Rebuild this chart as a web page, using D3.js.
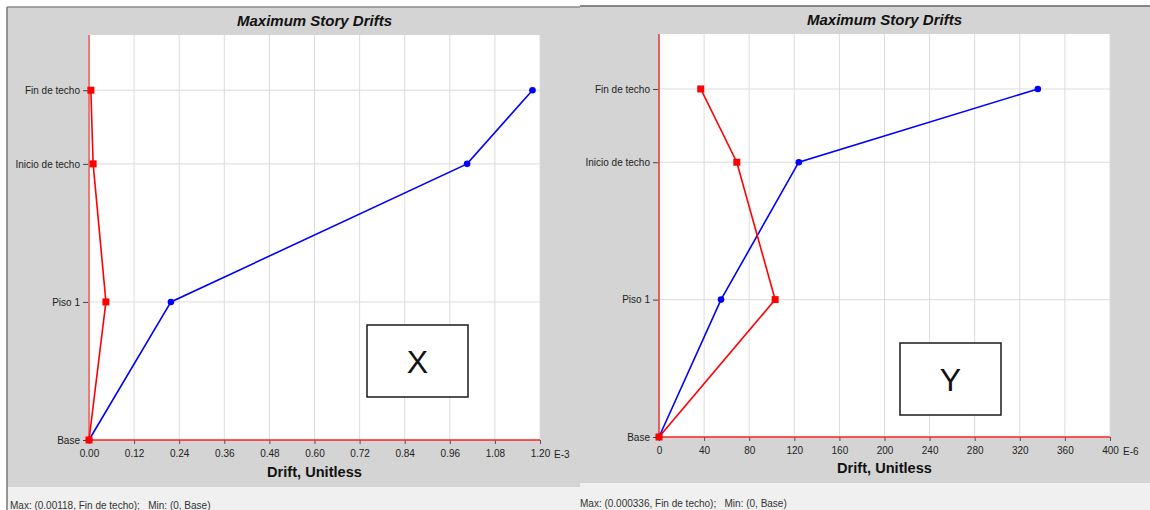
<!DOCTYPE html>
<html>
<head>
<meta charset="utf-8">
<script src="https://cdn.jsdelivr.net/npm/d3@7"></script>
<style>
  html, body { margin: 0; padding: 0; background: #ffffff; }
  svg { display: block; font-family: "Liberation Sans", Arial, sans-serif; }
</style>
</head>
<body>
<svg id="chart" width="1150" height="510"></svg>
<script>
// Story levels (name and elevation, m)
const stories = ["Base", "Piso 1", "Inicio de techo", "Fin de techo"];
const storyElevations = [0, 3, 6, 7.6];

// X direction drifts (E-3)
const driftXBlue = [0, 0.218, 1.006, 1.18];
const driftXRed = [0, 0.045, 0.011, 0.005];
const ticksX = [0, 0.12, 0.24, 0.36, 0.48, 0.60, 0.72, 0.84, 0.96, 1.08, 1.20];

// Y direction drifts (E-6)
const driftYBlue = [0, 55, 124, 336];
const driftYRed = [0, 103, 69, 37];
const ticksY = [0, 40, 80, 120, 160, 200, 240, 280, 320, 360, 400];

const svg = d3.select("#chart");

function drawPanel(opt) {
  const g = svg.append("g");

  // panel background and status strip
  g.append("rect").attr("x", opt.px).attr("y", opt.py).attr("width", opt.pw).attr("height", opt.ph)
    .attr("fill", "#d4d4d4");
  g.append("rect").attr("x", opt.px).attr("y", opt.py + opt.ph).attr("width", opt.pw).attr("height", 510 - opt.py - opt.ph)
    .attr("fill", "#f0f0f0");
  g.append("line").attr("x1", opt.px).attr("x2", opt.px + opt.pw).attr("y1", opt.py).attr("y2", opt.py)
    .attr("stroke", opt.topStroke).attr("stroke-width", 1.5);
  if (opt.leftBorder) {
    g.append("line").attr("x1", opt.px).attr("x2", opt.px).attr("y1", opt.py).attr("y2", 510)
      .attr("stroke", "#777").attr("stroke-width", 1.5);
  }

  const x = d3.scaleLinear().domain(opt.domain).range([opt.x0, opt.x1]);
  const y = d3.scaleLinear().domain([0, 8.8]).range([opt.yBase, opt.yTop]);

  // plot area
  g.append("rect").attr("x", opt.x0).attr("y", opt.yTop)
    .attr("width", opt.x1 - opt.x0).attr("height", opt.yBase - opt.yTop).attr("fill", "#ffffff");

  // grid
  g.append("g").selectAll("line").data(opt.ticks.slice(1)).join("line")
    .attr("x1", d => x(d)).attr("x2", d => x(d))
    .attr("y1", opt.yTop).attr("y2", opt.yBase)
    .attr("stroke", "#dcdcdc").attr("stroke-width", 1);
  g.append("g").selectAll("line").data(storyElevations.slice(1)).join("line")
    .attr("x1", opt.x0).attr("x2", opt.x1)
    .attr("y1", d => y(d)).attr("y2", d => y(d))
    .attr("stroke", "#dcdcdc").attr("stroke-width", 1);

  // x axis
  const xAxis = d3.axisBottom(x).tickValues(opt.ticks).tickSize(4).tickPadding(6)
    .tickFormat(opt.fmt);
  const gx = g.append("g").attr("transform", `translate(0,${opt.yBase})`).call(xAxis);
  gx.select(".domain").remove();
  gx.selectAll(".tick line").attr("stroke", "#555");
  gx.selectAll(".tick text").attr("font-size", 10).attr("fill", "#222")
    .attr("font-family", "Liberation Sans, Arial, sans-serif");
  g.append("text").attr("x", opt.x1 + opt.unitDx).attr("y", opt.yBase + 18)
    .attr("font-size", 10).attr("fill", "#222").text(opt.unit);

  // y axis with story names
  const yAxis = d3.axisLeft(y).tickValues(storyElevations).tickSize(5).tickPadding(3)
    .tickFormat((d, i) => stories[i]);
  const gy = g.append("g").attr("transform", `translate(${opt.x0 - 1},0)`).call(yAxis);
  gy.select(".domain").remove();
  gy.selectAll(".tick line").attr("stroke", "#444");
  gy.selectAll(".tick text").attr("font-size", 10).attr("fill", "#222")
    .attr("font-family", "Liberation Sans, Arial, sans-serif");

  // zero lines
  g.append("line").attr("x1", x(0)).attr("x2", x(0)).attr("y1", opt.yTop).attr("y2", opt.yBase)
    .attr("stroke", opt.zeroStroke).attr("stroke-width", opt.zeroWidth);
  g.append("line").attr("x1", opt.x0).attr("x2", opt.x1).attr("y1", opt.yBase).attr("y2", opt.yBase)
    .attr("stroke", "#ff2020").attr("stroke-width", 1.5);

  const line = d3.line().x(d => x(d[0])).y(d => y(d[1]));

  // blue series
  const blue = opt.blue.map((v, i) => [v, storyElevations[i]]);
  g.append("path").datum(blue).attr("d", line).attr("fill", "none")
    .attr("stroke", "#0000ff").attr("stroke-width", 1.6);
  g.append("g").selectAll("circle").data(blue).join("circle")
    .attr("cx", d => x(d[0])).attr("cy", d => y(d[1])).attr("r", 3.3).attr("fill", "#0000ff");

  // red series
  const red = opt.red.map((v, i) => [v, storyElevations[i]]);
  g.append("path").datum(red).attr("d", line).attr("fill", "none")
    .attr("stroke", "#ff0000").attr("stroke-width", 1.6);
  g.append("g").selectAll("rect.m").data(red).join("rect")
    .attr("x", d => x(d[0]) - 3.5).attr("y", d => y(d[1]) - 3.5)
    .attr("width", 7).attr("height", 7).attr("fill", "#ff0000");

  // title and axis title
  g.append("text").attr("x", (opt.x0 + opt.x1) / 2).attr("y", opt.titleY)
    .attr("text-anchor", "middle").attr("font-size", 15).attr("font-weight", "bold")
    .attr("font-style", "italic").attr("fill", "#111").text("Maximum Story Drifts");
  g.append("text").attr("x", (opt.x0 + opt.x1) / 2).attr("y", opt.axisTitleY)
    .attr("text-anchor", "middle").attr("font-size", 14.6).attr("font-weight", "bold")
    .attr("fill", "#111").text("Drift, Unitless");

  // direction box
  g.append("rect").attr("x", opt.box[0]).attr("y", opt.box[1]).attr("width", opt.box[2]).attr("height", opt.box[3])
    .attr("fill", "#ffffff").attr("stroke", "#1a1a1a").attr("stroke-width", 1.5);
  g.append("text").attr("x", opt.box[0] + opt.box[2] / 2).attr("y", opt.box[1] + opt.box[3] / 2 + 11.5)
    .attr("text-anchor", "middle").attr("font-size", 32).attr("fill", "#111").text(opt.label);

  // status line
  g.append("text").attr("x", opt.statusX).attr("y", opt.statusY)
    .attr("font-size", 10).attr("fill", "#333").attr("xml:space", "preserve")
    .text(opt.status);
}

drawPanel({
  px: 7, py: 7, pw: 573, ph: 480, topStroke: "#8a8a8a", leftBorder: true,
  x0: 89, x1: 540, yTop: 35, yBase: 440,
  domain: [0, 1.2], ticks: ticksX, fmt: d => d.toFixed(2), unit: "E-3", unitDx: 14,
  blue: driftXBlue, red: driftXRed,
  zeroStroke: "#f07878", zeroWidth: 2,
  titleY: 26, axisTitleY: 477,
  box: [367, 325, 101, 72], label: "X",
  statusX: 10, statusY: 509,
  status: "Max: (0.00118, Fin de techo);   Min: (0, Base)"
});

drawPanel({
  px: 580, py: 6, pw: 570, ph: 477, topStroke: "#666", leftBorder: false,
  x0: 659, x1: 1110, yTop: 34, yBase: 437,
  domain: [0, 400], ticks: ticksY, fmt: d3.format("d"), unit: "E-6", unitDx: 13,
  blue: driftYBlue, red: driftYRed,
  zeroStroke: "#ee2222", zeroWidth: 1.4,
  titleY: 25, axisTitleY: 473,
  box: [900, 343, 101, 72], label: "Y",
  statusX: 580, statusY: 507,
  status: "Max: (0.000336, Fin de techo);   Min: (0, Base)"
});
</script>
</body>
</html>
